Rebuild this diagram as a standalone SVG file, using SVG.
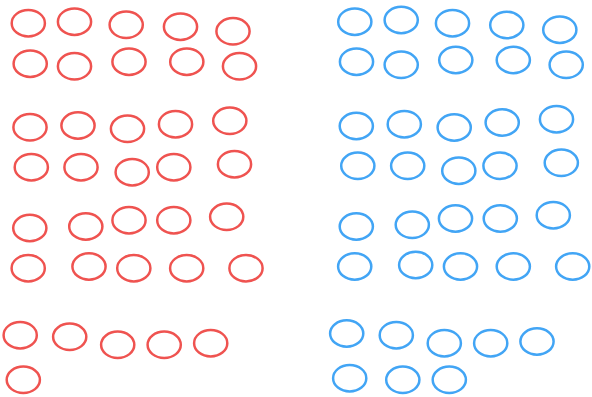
<svg xmlns="http://www.w3.org/2000/svg" width="592" height="397" viewBox="0 0 592 397">
<style>
.r{fill:none;stroke:#ef5350;stroke-width:2.5}
.b{fill:none;stroke:#42a5f5;stroke-width:2.5}
</style>
<rect width="592" height="397" fill="#ffffff"/>
<g id="red">
<ellipse class="r" cx="28.3" cy="23.2" rx="16.6" ry="13.2"/>
<ellipse class="r" cx="74.5" cy="21.7" rx="16.6" ry="13.2"/>
<ellipse class="r" cx="126.2" cy="24.8" rx="16.6" ry="13.2"/>
<ellipse class="r" cx="180.5" cy="26.7" rx="16.6" ry="13.2"/>
<ellipse class="r" cx="233" cy="31.3" rx="16.6" ry="13.2"/>
<ellipse class="r" cx="30.2" cy="63.7" rx="16.6" ry="13.2"/>
<ellipse class="r" cx="74.5" cy="66.3" rx="16.6" ry="13.2"/>
<ellipse class="r" cx="129" cy="61.7" rx="16.6" ry="13.2"/>
<ellipse class="r" cx="186.8" cy="61.7" rx="16.6" ry="13.2"/>
<ellipse class="r" cx="239.5" cy="66.3" rx="16.6" ry="13.2"/>
<ellipse class="r" cx="30" cy="127.3" rx="16.6" ry="13.2"/>
<ellipse class="r" cx="78" cy="125.5" rx="16.6" ry="13.2"/>
<ellipse class="r" cx="127.5" cy="128.8" rx="16.6" ry="13.2"/>
<ellipse class="r" cx="175.5" cy="124.2" rx="16.6" ry="13.2"/>
<ellipse class="r" cx="229.8" cy="120.8" rx="16.6" ry="13.2"/>
<ellipse class="r" cx="31.3" cy="167.2" rx="16.6" ry="13.2"/>
<ellipse class="r" cx="81" cy="167.2" rx="16.6" ry="13.2"/>
<ellipse class="r" cx="132.2" cy="172.2" rx="16.6" ry="13.2"/>
<ellipse class="r" cx="173.8" cy="167.2" rx="16.6" ry="13.2"/>
<ellipse class="r" cx="234.5" cy="164.2" rx="16.6" ry="13.2"/>
<ellipse class="r" cx="29.8" cy="228" rx="16.6" ry="13.2"/>
<ellipse class="r" cx="85.8" cy="226.5" rx="16.6" ry="13.2"/>
<ellipse class="r" cx="129" cy="220.2" rx="16.6" ry="13.2"/>
<ellipse class="r" cx="173.8" cy="220.2" rx="16.6" ry="13.2"/>
<ellipse class="r" cx="226.7" cy="216.8" rx="16.6" ry="13.2"/>
<ellipse class="r" cx="28.2" cy="268.2" rx="16.6" ry="13.2"/>
<ellipse class="r" cx="89" cy="266.5" rx="16.6" ry="13.2"/>
<ellipse class="r" cx="133.8" cy="268.2" rx="16.6" ry="13.2"/>
<ellipse class="r" cx="186.7" cy="268.2" rx="16.6" ry="13.2"/>
<ellipse class="r" cx="246" cy="268.2" rx="16.6" ry="13.2"/>
<ellipse class="r" cx="20.2" cy="335.2" rx="16.6" ry="13.2"/>
<ellipse class="r" cx="69.7" cy="336.8" rx="16.6" ry="13.2"/>
<ellipse class="r" cx="117.7" cy="344.8" rx="16.6" ry="13.2"/>
<ellipse class="r" cx="164.2" cy="344.8" rx="16.6" ry="13.2"/>
<ellipse class="r" cx="210.7" cy="343.2" rx="16.6" ry="13.2"/>
<ellipse class="r" cx="23.3" cy="379.8" rx="16.6" ry="13.2"/>
</g>
<g id="blue">
<ellipse class="b" cx="354.8" cy="21.7" rx="16.6" ry="13.2"/>
<ellipse class="b" cx="401.2" cy="20" rx="16.6" ry="13.2"/>
<ellipse class="b" cx="452.5" cy="23.2" rx="16.6" ry="13.2"/>
<ellipse class="b" cx="506.8" cy="25" rx="16.6" ry="13.2"/>
<ellipse class="b" cx="559.8" cy="29.7" rx="16.6" ry="13.2"/>
<ellipse class="b" cx="356.5" cy="61.7" rx="16.6" ry="13.2"/>
<ellipse class="b" cx="401.2" cy="64.8" rx="16.6" ry="13.2"/>
<ellipse class="b" cx="455.8" cy="60" rx="16.6" ry="13.2"/>
<ellipse class="b" cx="513.3" cy="60" rx="16.6" ry="13.2"/>
<ellipse class="b" cx="566.2" cy="64.8" rx="16.6" ry="13.2"/>
<ellipse class="b" cx="356.3" cy="126" rx="16.6" ry="13.2"/>
<ellipse class="b" cx="404.3" cy="124.2" rx="16.6" ry="13.2"/>
<ellipse class="b" cx="454.2" cy="127.5" rx="16.6" ry="13.2"/>
<ellipse class="b" cx="502.2" cy="122.5" rx="16.6" ry="13.2"/>
<ellipse class="b" cx="556.5" cy="119.2" rx="16.6" ry="13.2"/>
<ellipse class="b" cx="357.8" cy="165.8" rx="16.6" ry="13.2"/>
<ellipse class="b" cx="407.7" cy="165.8" rx="16.6" ry="13.2"/>
<ellipse class="b" cx="458.8" cy="170.7" rx="16.6" ry="13.2"/>
<ellipse class="b" cx="500" cy="165.8" rx="16.6" ry="13.2"/>
<ellipse class="b" cx="561.3" cy="162.8" rx="16.6" ry="13.2"/>
<ellipse class="b" cx="356.3" cy="226.5" rx="16.6" ry="13.2"/>
<ellipse class="b" cx="412.3" cy="224.8" rx="16.6" ry="13.2"/>
<ellipse class="b" cx="455.5" cy="218.5" rx="16.6" ry="13.2"/>
<ellipse class="b" cx="500.3" cy="218.5" rx="16.6" ry="13.2"/>
<ellipse class="b" cx="553.3" cy="215.2" rx="16.6" ry="13.2"/>
<ellipse class="b" cx="354.7" cy="266.5" rx="16.6" ry="13.2"/>
<ellipse class="b" cx="415.7" cy="265" rx="16.6" ry="13.2"/>
<ellipse class="b" cx="460.5" cy="266.5" rx="16.6" ry="13.2"/>
<ellipse class="b" cx="513.3" cy="266.5" rx="16.6" ry="13.2"/>
<ellipse class="b" cx="572.7" cy="266.5" rx="16.6" ry="13.2"/>
<ellipse class="b" cx="346.7" cy="333.5" rx="16.6" ry="13.2"/>
<ellipse class="b" cx="396.3" cy="335.2" rx="16.6" ry="13.2"/>
<ellipse class="b" cx="444.3" cy="343.2" rx="16.6" ry="13.2"/>
<ellipse class="b" cx="490.7" cy="343.2" rx="16.6" ry="13.2"/>
<ellipse class="b" cx="537" cy="341.5" rx="16.6" ry="13.2"/>
<ellipse class="b" cx="349.7" cy="378.2" rx="16.6" ry="13.2"/>
<ellipse class="b" cx="402.8" cy="379.8" rx="16.6" ry="13.2"/>
<ellipse class="b" cx="449.3" cy="379.8" rx="16.6" ry="13.2"/>
</g>
</svg>
